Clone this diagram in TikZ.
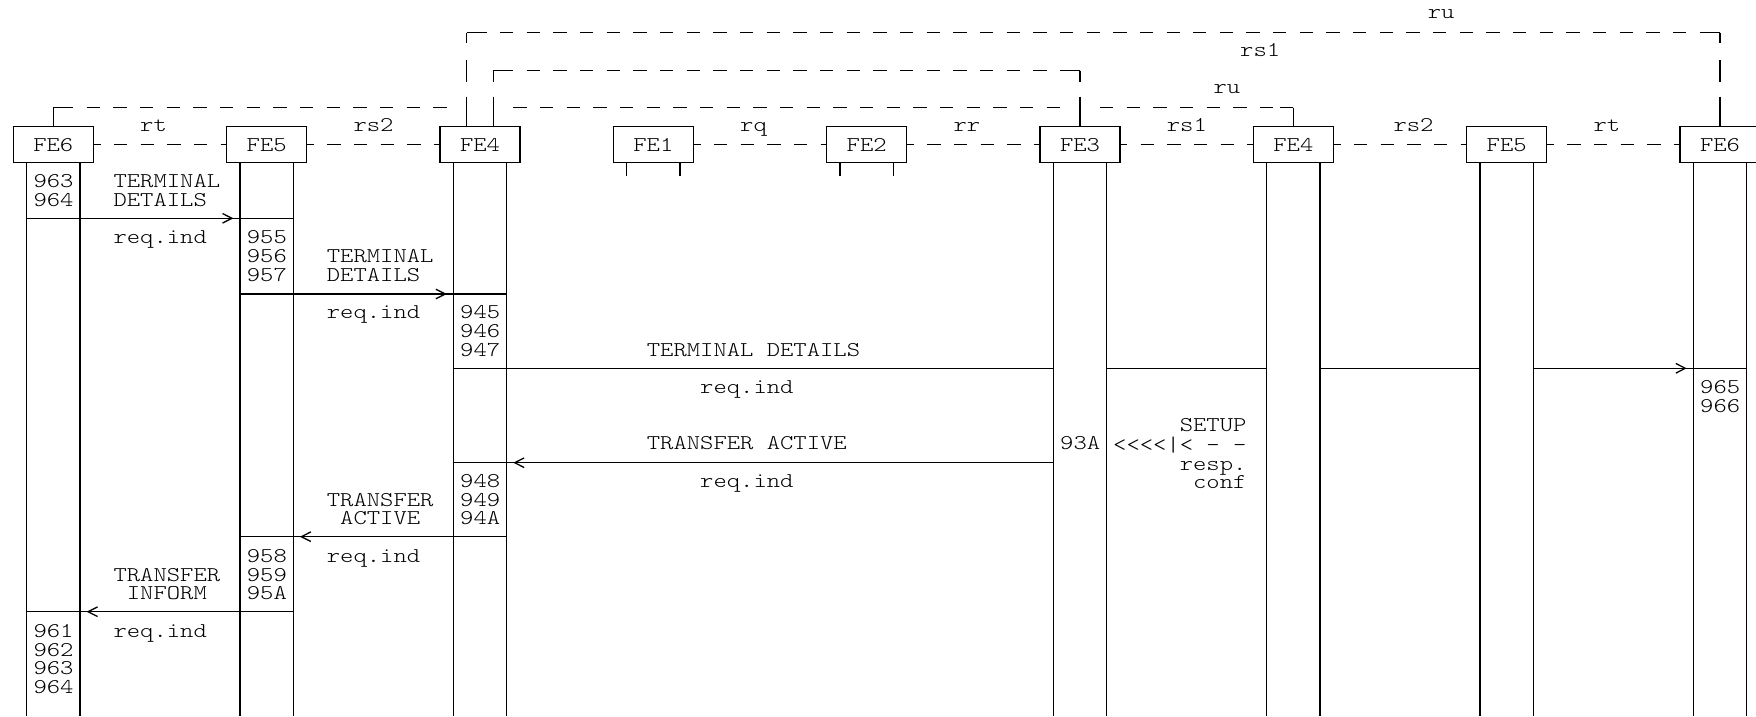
\documentclass[tikz,border=0pt]{standalone}
\usepackage{fontspec}
\newfontfamily\diagfont{lmmonolt10-regular.otf}[FakeStretch=1.209]
\usetikzlibrary{calc}
\newcommand\mlines[1]{\begin{tabular}[t]{@{}l@{}}#1\end{tabular}}
\newcommand\mcent[1]{\begin{tabular}[t]{@{}c@{}}#1\end{tabular}}
\newcommand\mright[1]{\begin{tabular}[t]{@{}r@{}}#1\end{tabular}}
\newcommand\chevR[2]{\draw[msg] ($(#1 |- 0,#2)+(-17.5,-4.8)$) -- ++(9.5,4.8) -- ++(-9.5,4.8);}
\newcommand\chevL[2]{\draw[msg] ($(#1 |- 0,#2)+(17.5,-4.8)$) -- ++(-9.5,4.8) -- ++(9.5,4.8);}
\begin{document}
\begin{tikzpicture}[x=1pt,y=-1pt,
  ln/.style={line width=1.3pt},
  febox/.style={draw, line width=1.3pt, minimum width=80pt, minimum height=36pt, inner sep=0pt, font=\diagfont\fontsize{21}{18.75}\selectfont},
  txt/.style={inner sep=0pt, anchor=base west, font=\diagfont\fontsize{21}{18.75}\selectfont},
  life/.style={line width=1.3pt},
  msg/.style={line width=1.3pt},
  dsh/.style={line width=1.3pt, dash pattern=on 13.33pt off 13.33pt},
]
\fill[white] (0,0) rectangle (1756,716);
\useasboundingbox (0,0) rectangle (1756,716);

% entities
\foreach \n/\x/\l in {fe6l/53.33/FE6, fe5l/266.67/FE5, fe4l/480/FE4, fe1/653.33/FE1, fe2/866.67/FE2, fe3/1080/FE3, fe4r/1293.33/FE4, fe5r/1506.67/FE5, fe6r/1720/FE6} {
  \node[febox] (\n) at (\x,144.7) {\l};
  \coordinate (la\n) at ($(\n.south)+(-26.67,0)$);
  \coordinate (lb\n) at ($(\n.south)+(26.67,0)$);
}
% lifelines
\foreach \n in {fe6l,fe5l,fe4l,fe3,fe4r,fe5r,fe6r} {
  \draw[life] (la\n) -- (la\n |- 0,716);
  \draw[life] (lb\n) -- (lb\n |- 0,716);
}
\foreach \n in {fe1,fe2} {
  \draw[life] (la\n) -- ++(0,13);
  \draw[life] (lb\n) -- ++(0,13);
}

% dashed links between neighbouring boxes
\foreach \a/\b in {fe6l/fe5l, fe5l/fe4l, fe1/fe2, fe2/fe3, fe3/fe4r, fe4r/fe5r, fe5r/fe6r} {
  \draw[dsh, dash phase=6.67pt] (\a.east) -- (\b.west);
}

% corner points of upper links
\coordinate (vA) at ($(fe4l.north)+(-13.33,0)$);
\coordinate (vB) at ($(fe4l.north)+(13.33,0)$);
\coordinate (vC) at (fe3.north);
\coordinate (vD) at (fe6r.north);
\coordinate (vE) at (fe6l.north);
\coordinate (vF) at (fe4r.north);

% top ru: FE4 (left) -- FE6 (right)
\draw[ln] (vA |- 0,32.5) -- (vA |- 0,43.3) (vA |- 0,60) -- (vA |- 0,81.7) (vA |- 0,96.7) -- (vA);
\draw[ln] (vD |- 0,32.5) -- (vD |- 0,43.3) (vD |- 0,60) -- (vD |- 0,81.7) (vD |- 0,96.7) -- (vD);
\draw[dsh, dash phase=20pt] (vA |- 0,32.5) -- (vD |- 0,32.5);
\draw[ln] (vA |- 0,32.5) -- ++(13.33,0);
\draw[ln] (vD |- 0,32.5) -- ++(-13.33,0);

% rs1: FE4 (left) -- FE3
\draw[ln] (vB |- 0,70.7) -- (vB |- 0,81.7) (vB |- 0,96.7) -- (vB);
\draw[ln] (vC |- 0,70.7) -- (vC |- 0,81.7) (vC |- 0,96.7) -- (vC);
\draw[dsh, dash phase=20pt] (vB |- 0,70.7) -- (vC |- 0,70.7);
\draw[ln] (vB |- 0,70.7) -- ++(13.33,0);
\draw[ln] (vC |- 0,70.7) -- ++(-13.33,0);

% lower ru: FE6 (left) -- FE4 (right)
\draw[ln] (vE |- 0,107.7) -- (vE);
\draw[ln] (vF |- 0,107.7) -- (vF);
\draw[dsh, dash phase=20pt] (vE |- 0,107.7) -- (453.33,107.7);
\draw[dsh, dash phase=20pt] (506.67,107.7) -- (1066.67,107.7);
\draw[dsh, dash phase=20pt] (1093.33,107.7) -- (vF |- 0,107.7);
\draw[ln] (vE |- 0,107.7) -- ++(13.33,0);
\draw[ln] (vF |- 0,107.7) -- ++(-13.33,0);

% link labels
\node[txt] (lrt1) at (140,131.05) {rt};
\node[txt] (lrs2a) at (353.33,131.05) {rs2};
\node[txt] (lrq) at (740,131.05) {rq};
\node[txt] (lrr) at (953.33,131.05) {rr};
\node[txt] (lrs1b) at (1166.67,131.05) {rs1};
\node[txt] (lrs2b) at (1393.33,131.05) {rs2};
\node[txt] (lrt2) at (1593.33,131.05) {rt};
\node[txt] (lru2) at (1213.33,93.55) {ru};
\node[txt] (lrs1a) at (1240,56.05) {rs1};
\node[txt] (lru1) at (1427.6,18.55) {ru};

% messages
\draw[msg] (lafe6l |- 0,218.3) -- (lbfe5l |- 0,218.3);
\chevR{lafe5l}{218.3}
\draw[msg] (lafe5l |- 0,294) -- (lbfe4l |- 0,294);
\chevR{lafe4l}{294}
\draw[msg] (lafe4l |- 0,368.3) -- (lafe3 |- 0,368.3);
\draw[msg] (lbfe3 |- 0,368.3) -- (lafe4r |- 0,368.3);
\draw[msg] (lbfe4r |- 0,368.3) -- (lafe5r |- 0,368.3);
\draw[msg] (lbfe5r |- 0,368.3) -- (lbfe6r |- 0,368.3);
\chevR{lafe6r}{368.3}
\draw[msg] (lafe3 |- 0,462.7) -- (lafe4l |- 0,462.7);
\chevL{lbfe4l}{462.7}
\draw[msg] (lbfe4l |- 0,536.7) -- (lafe5l |- 0,536.7);
\chevL{lbfe5l}{536.7}
\draw[msg] (lbfe5l |- 0,611.7) -- (lafe6l |- 0,611.7);
\chevL{lbfe6l}{611.7}

% texts
\node[txt] (t963) at (33.33,187.3) {\mlines{963\\964}};
\node[txt] (m1a) at (113.33,187.3) {\mlines{TERMINAL\\DETAILS}};
\node[txt] (m1b) at (113.33,243.55) {req.ind};
\node[txt] (t955) at (246.67,243.55) {\mlines{955\\956\\957}};
\node[txt] (m2a) at (326.67,262.3) {\mlines{TERMINAL\\DETAILS}};
\node[txt] (m2b) at (326.67,318.55) {req.ind};
\node[txt] (t945) at (460,318.55) {\mlines{945\\946\\947}};
\node[txt] (m3a) at (646.67,356.05) {TERMINAL DETAILS};
\node[txt] (m3b) at (700,393.55) {req.ind};
\node[txt] (t965) at (1700,393.55) {\mlines{965\\966}};
\node[txt] (m4a) at (646.67,449.8) {TRANSFER ACTIVE};
\node[txt] (m4b) at (700,487.3) {req.ind};
\node[txt] (t948) at (460,487.3) {\mlines{948\\949\\94A}};
\node[txt] (m5a) at (326.67,506.05) {\mcent{TRANSFER\\ACTIVE}};
\node[txt] (m5b) at (326.67,562.3) {req.ind};
\node[txt] (t958) at (246.67,562.3) {\mlines{958\\959\\95A}};
\node[txt] (m6a) at (113.33,581.05) {\mcent{TRANSFER\\INFORM}};
\node[txt] (m6b) at (113.33,637.3) {req.ind};
\node[txt] (t961) at (33.33,637.3) {\mlines{961\\962\\963\\964}};
\node[txt] (t93a) at (1060,449.8) {93A};
\node[txt, anchor=base east] (setup) at (1246.67,431.05) {\mright{SETUP\\<<<<|< - -\\resp.\\conf}};
\end{tikzpicture}
\end{document}
